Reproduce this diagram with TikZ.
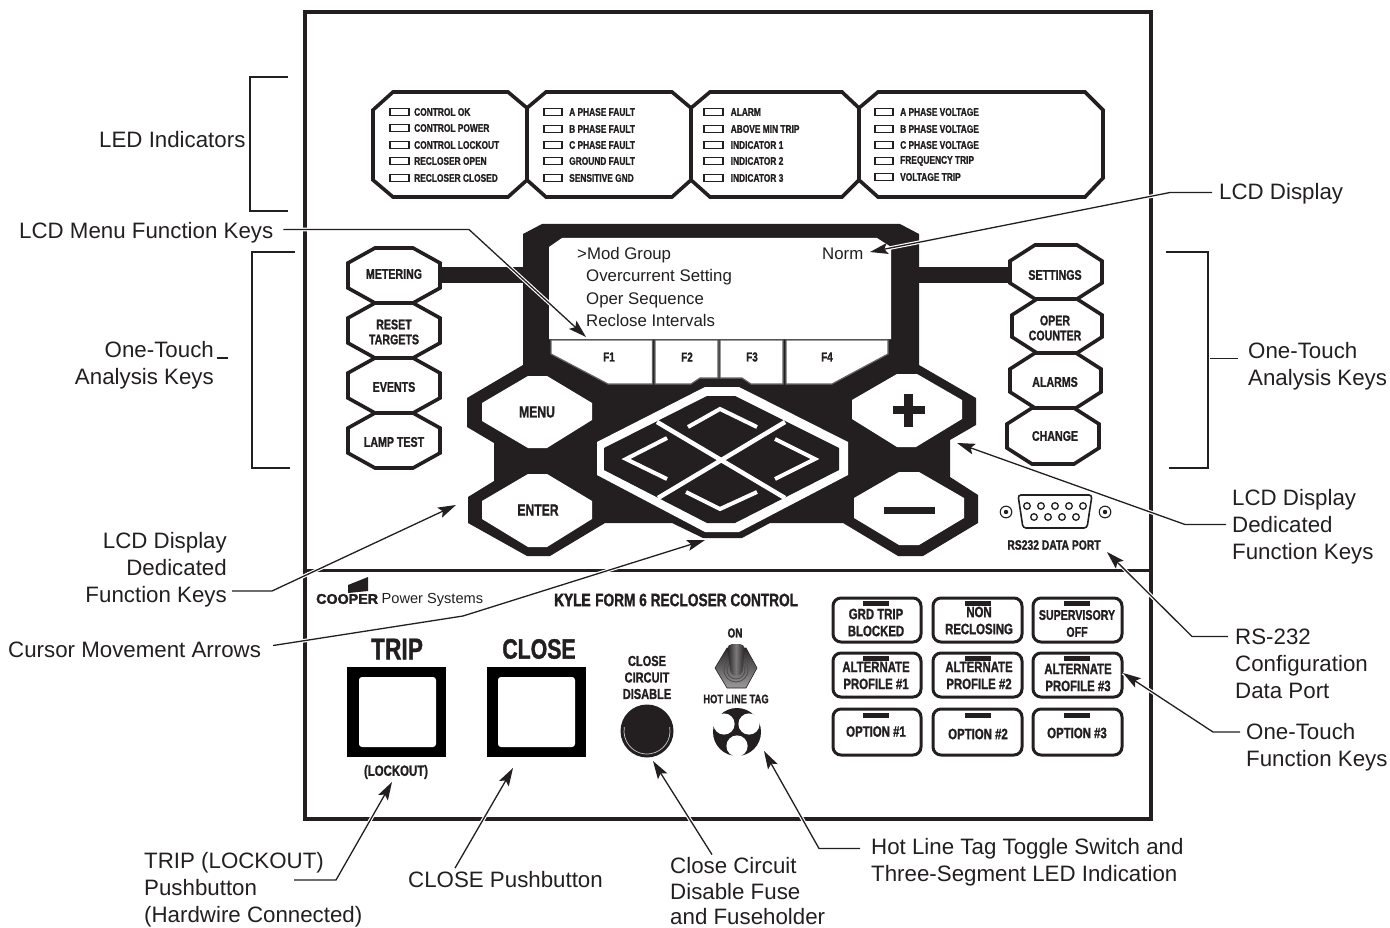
\documentclass[tikz,border=0pt]{standalone}
\usepackage{fontspec}
\usetikzlibrary{arrows.meta,calc}
\setmainfont{Liberation Sans}
\newfontfamily\cond[FakeStretch=0.76,FakeBold=1.2]{Liberation Sans Bold}
\newfontfamily\condh[FakeStretch=0.76,FakeBold=3]{Liberation Sans Bold}
\newfontfamily\heavy[FakeStretch=1.02,FakeBold=2.5]{Liberation Sans Bold}
\definecolor{ink}{HTML}{231F20}
\newcommand\sz[1]{\fontsize{#1}{#1}\selectfont}
\tikzset{
  callout/.style={inner sep=0pt,text=ink,font=\fontsize{22.3}{27}\selectfont},
  lab/.style={inner sep=0pt,text=ink,align=center},
  ledtxt/.style={inner sep=0pt,anchor=west,text=ink,font=\cond\sz{11}},
  ledbox/.style={draw=ink,line width=1.4pt,fill=white},
  panel/.style={draw=ink,line width=3.6pt,fill=white,line join=miter},
  conn/.style={draw=ink,line width=1.3pt,line join=miter,
     preaction={draw=white,line width=3.6pt,-}},
  arr/.style={conn,-{Stealth[length=18pt,width=11pt,inset=3.5pt]}},
  bracket/.style={draw=ink,line width=1.3pt},
  fkey/.style={draw=ink!70,line width=1.2pt,fill=white},
  wkey/.style={fill=white,draw=none},
  fbutton/.style={draw=ink,line width=3pt,fill=white,rounded corners=8pt},
  ledbar/.style={fill=ink,draw=none}
}
\newcommand\octbox[6]{% x1 x2 y1 y2 dx dy
  \draw[panel] (#1,#3+#6) -- (#1+#5,#3) -- (#2-#5,#3) -- (#2,#3+#6) -- (#2,#4-#6) -- (#2-#5,#4) -- (#1+#5,#4) -- (#1,#4-#6) -- cycle;}
\begin{document}
\begin{tikzpicture}[x=1pt,y=-1pt]
\useasboundingbox (0,0) rectangle (1390,928);
% frame
\draw[draw=ink,line width=3.4pt] (305,12) rectangle (1151,819);
\draw[draw=ink,line width=3pt] (305,570) -- (1151,570);
% brackets
\draw[bracket] (288,77) -- (250,77) -- (250,211) -- (288,211);
\draw[bracket] (295,252) -- (252,252) -- (252,468) -- (290,468);
\draw[bracket] (1166,252) -- (1208,252) -- (1208,468) -- (1169,468);
% LED panels
\draw[panel] (393,92) -- (508,92) -- (527,108) -- (527,180) -- (508,197) -- (393,197) -- (373,180) -- (373,110) -- cycle;
\draw[panel] (546,92) -- (672,92) -- (691,108) -- (691,180) -- (672,197) -- (546,197) -- (527,180) -- (527,108) -- cycle;
\draw[panel] (710,92) -- (842,92) -- (859,108) -- (859,180) -- (842,197) -- (710,197) -- (691,180) -- (691,108) -- cycle;
\draw[panel] (878,92) -- (1085,92) -- (1103,110) -- (1103,178) -- (1085,197) -- (878,197) -- (859,180) -- (859,108) -- cycle;
\foreach \i/\y/\t in {1/112/CONTROL OK,2/128/CONTROL POWER,3/145/CONTROL LOCKOUT,4/161/RECLOSER OPEN,5/178/RECLOSER CLOSED}{
  \draw[ledbox] (390,\y-3.5) rectangle (409,\y+3.5);
  \node[ledtxt] (pa\i) at (414,\y) {\t};}
\foreach \i/\y/\t in {1/112/A PHASE FAULT,2/129/B PHASE FAULT,3/145/C PHASE FAULT,4/161/GROUND FAULT,5/178/SENSITIVE GND}{
  \draw[ledbox] (544,\y-3.5) rectangle (562,\y+3.5);
  \node[ledtxt] (pb\i) at (569,\y) {\t};}
\foreach \i/\y/\t in {1/112/ALARM,2/129/ABOVE MIN TRIP,3/145/INDICATOR 1,4/161/INDICATOR 2,5/178/INDICATOR 3}{
  \draw[ledbox] (704,\y-3.5) rectangle (723,\y+3.5);
  \node[ledtxt] (pc\i) at (730.5,\y) {\t};}
\foreach \i/\y/\t in {1/112/A PHASE VOLTAGE,2/129/B PHASE VOLTAGE,3/145/C PHASE VOLTAGE,4/161/FREQUENCY TRIP,5/177/VOLTAGE TRIP}{
  \draw[ledbox] (875,\y-3.5) rectangle (893,\y+3.5);
  \node[ledtxt] (pd\i) at (900,\y) {\t};}
% bars to LCD
\fill[ink] (440,267) rectangle (530,283);
\fill[ink] (915,267) rectangle (1012,283);
% left octagons
\octbox{348}{440}{248}{303}{27}{15}
\octbox{348}{440}{303}{358}{27}{15}
\octbox{348}{440}{358}{413}{27}{15}
\octbox{348}{440}{413}{468}{27}{15}
% right octagons
\octbox{1010}{1102}{245}{299}{25}{16}
\octbox{1012}{1102}{299}{353}{25}{16}
\octbox{1010}{1101}{353}{408}{25}{16}
\octbox{1007}{1099}{408}{464}{25}{16}
\node[lab,font=\cond\sz{14}] (kmet) at (394,274) {METERING};
\node[lab,font=\cond\fontsize{14}{15}\selectfont] (kres) at (394,332) {RESET\\TARGETS};
\node[lab,font=\cond\sz{14}] (kev) at (394,387) {EVENTS};
\node[lab,font=\cond\sz{14}] (klt) at (394,442) {LAMP TEST};
\node[lab,font=\cond\sz{14}] (kset) at (1055,275) {SETTINGS};
\node[lab,font=\cond\fontsize{14}{15}\selectfont] (kop) at (1055,328) {OPER\\COUNTER};
\node[lab,font=\cond\sz{14}] (kal) at (1055,382) {ALARMS};
\node[lab,font=\cond\sz{14}] (kch) at (1055,436) {CHANGE};
% main black body
\fill[ink] (542,224) -- (900,224) -- (919,234) -- (919,365) -- (976,398) -- (976,425) -- (950,440) -- (950,477) -- (978,495) -- (978,523) -- (923,556) -- (898,556) -- (843,523) -- (770,523) -- (742,538) -- (703,538) -- (672,523) -- (605,523) -- (550,556) -- (527,556) -- (468,523) -- (468,497) -- (494,481) -- (494,443) -- (467,427) -- (467,398) -- (523,365) -- (523,234) -- cycle;
% LCD window
\fill[white] (562,238) -- (877,238) -- (891,247) -- (891,339) -- (549,339) -- (549,247) -- cycle;
\draw[fkey] (551,340) -- (652.5,340) -- (652.5,384) -- (608,384) -- (551,354) -- cycle;
\draw[fkey] (655,340) -- (718,340) -- (718,378) -- (700,378) -- (691,384) -- (655,384) -- cycle;
\draw[fkey] (720,340) -- (783,340) -- (783,384) -- (751,384) -- (742,378) -- (720,378) -- cycle;
\draw[fkey] (786,340) -- (888,340) -- (888,354) -- (832,384) -- (786,384) -- cycle;
\node[lab,font=\cond\sz{13}] (f1) at (609,357) {F1};
\node[lab,font=\cond\sz{13}] (f2) at (687,357) {F2};
\node[lab,font=\cond\sz{13}] (f3) at (752,357) {F3};
\node[lab,font=\cond\sz{13}] (f4) at (827,357) {F4};
\node[lab,anchor=west,font=\sz{16.8}] (l1) at (577,255.5) {>Mod Group};
\node[lab,anchor=west,font=\sz{16.8}] (l2) at (586,277.5) {Overcurrent Setting};
\node[lab,anchor=west,font=\sz{16.8}] (l3) at (586,300) {Oper Sequence};
\node[lab,anchor=west,font=\sz{16.8}] (l4) at (586,320.5) {Reclose Intervals};
\node[lab,anchor=west,font=\sz{16.8}] (l5) at (822,254) {Norm};
% hex keys
\fill[wkey] (482,403) -- (528,376) -- (547,376) -- (592,403) -- (592,420) -- (547,448) -- (528,448) -- (482,421) -- cycle;
\fill[wkey] (482,501) -- (528,474) -- (547,474) -- (592,501) -- (592,519) -- (547,547) -- (528,547) -- (482,519) -- cycle;
\fill[wkey] (852,400) -- (897,374) -- (917,374) -- (962,400) -- (962,419) -- (916,447) -- (897,447) -- (852,419) -- cycle;
\fill[wkey] (854,498) -- (899,472) -- (919,472) -- (964,498) -- (964,518) -- (919,545) -- (899,545) -- (854,518) -- cycle;
\fill[ink] (893,406) rectangle (925,414);
\fill[ink] (904,394) rectangle (913,427);
\fill[ink] (884,507) rectangle (935,514);
\node[lab,font=\cond\sz{16}] (kmenu) at (537,412) {MENU};
\node[lab,font=\cond\sz{16}] (kenter) at (538,510) {ENTER};
% cursor diamond
\fill[white] (597,442) -- (705,387) -- (739,387) -- (848,442) -- (848,475) -- (739,532) -- (705,532) -- (597,475) -- cycle;
\fill[ink] (604,448) -- (707,396) -- (735,396) -- (839,448) -- (839,470) -- (735,523) -- (707,523) -- (604,470) -- cycle;
\draw[white,line width=4.5pt] (657,422) -- (785,498);
\draw[white,line width=4.5pt] (785,422) -- (658,498);
\draw[white,line width=4pt,miter limit=10] (688,427) -- (720,409) -- (757,427);
\draw[white,line width=4pt,miter limit=10] (667,438) -- (626,459) -- (667,479);
\draw[white,line width=4pt,miter limit=10] (775,439) -- (815,459) -- (775,479);
\draw[white,line width=4pt,miter limit=10] (686,492) -- (720,509) -- (757,492);
% RS232
\draw[ink,line width=1.6pt,fill=white,rounded corners=3pt] (1018,495) -- (1092,495) -- (1087,528) -- (1023,528) -- cycle;
\foreach \x in {1027,1041,1055,1069,1083}{\draw[ink,line width=1.3pt] (\x,506) circle (3.3pt);}
\foreach \x in {1034,1048,1062,1076}{\draw[ink,line width=1.3pt] (\x,517) circle (3.3pt);}
\foreach \x in {1006,1105}{\draw[ink,line width=1.1pt] (\x,512) circle (5.8pt);\fill[ink] (\x,512) circle (2.2pt);}
\node[lab,font=\cond\sz{13.6}] (rs) at (1054,545) {RS232 DATA PORT};
% lower panel
\fill[ink] (348,585) -- (368,577) -- (368,591) -- (348,593) -- cycle;
\node[lab,anchor=west,font=\heavy\sz{14}] (coop) at (316,599) {COOPER};
\node[lab,anchor=west,font=\sz{14.6}] (psys) at (381.5,599.5) {Power Systems};
\node[lab,anchor=west,font=\cond\sz{18}] (kyle) at (554,600) {{\condh KYLE}\hspace{.25em}FORM 6 RECLOSER CONTROL};
\node[lab,font=\cond\sz{30}] (trip) at (397,649) {TRIP};
\node[lab,font=\cond\sz{28}] (close) at (539,649) {CLOSE};
\fill[black] (347,667) rectangle (446,757);
\fill[black] (487,667) rectangle (586,757);
\fill[white,rounded corners=3pt] (359,677) rectangle (436,747);
\fill[white,rounded corners=3pt] (498,677) rectangle (575,747);
\node[lab,font=\cond\sz{15}] (lock) at (396,772) {(LOCKOUT)};
\node[lab,font=\cond\fontsize{14.5}{16.5}\selectfont] (ccd) at (647,677.5) {CLOSE\\CIRCUIT\\DISABLE};
\fill[ink] (647,731) circle (26.5pt);
\draw[white!75!ink,line width=.7pt] (647,731) ++(-10:23) arc (-10:190:23);
\node[lab,font=\cond\sz{13}] (on) at (735,633) {ON};
\node[lab,font=\cond\sz{12.3}] (hlt) at (736,699) {HOT LINE TAG};
% toggle switch
\shade[top color=ink!95,bottom color=ink!45,draw=ink,line width=.6pt] (715,668) -- (727,648) -- (746,648) -- (757,668) -- (746,688) -- (727,688) -- cycle;
\draw[ink!80,line width=.8pt] (736,670) circle (12pt);
\draw[ink!80,line width=.8pt] (736,670) circle (9pt);
\shade[left color=ink,right color=ink,middle color=ink!60,rounded corners=5pt] (727,644) -- (745,644) -- (742,676) -- (731,676) -- cycle;
% hot line LED
\fill[ink] (737,732) circle (24pt);
\fill[white] (724,724) circle (10.6pt);
\fill[white] (749,724) circle (10.6pt);
\fill[white] (737,746) circle (10.6pt);
% function buttons
\foreach \xa/\xb/\cx/\ba/\bb [count=\c] in {833/921/876/863/889,933/1022/979/965/991,1033/1122/1077/1064/1090}{
  \foreach \ya/\yb/\la/\lb in {598/642/601/606,653/697/656/661,709/755/713/718}{
    \draw[fbutton] (\xa,\ya) rectangle (\xb,\yb);
    \fill[ledbar] (\ba,\la) rectangle (\bb,\lb);}}
\node[lab,font=\cond\fontsize{15}{17}\selectfont] (b1) at (876,622.5) {GRD TRIP\\BLOCKED};
\node[lab,font=\cond\fontsize{15}{17}\selectfont] (b2) at (979,620.5) {NON\\RECLOSING};
\node[lab,font=\cond\fontsize{14}{17}\selectfont] (b3) at (1077,623.5) {SUPERVISORY\\OFF};
\node[lab,font=\cond\fontsize{15}{17}\selectfont] (b4) at (876,675.5) {ALTERNATE\\PROFILE \#1};
\node[lab,font=\cond\fontsize{15}{17}\selectfont] (b5) at (979,675.5) {ALTERNATE\\PROFILE \#2};
\node[lab,font=\cond\fontsize{15}{17}\selectfont] (b6) at (1078,677.5) {ALTERNATE\\PROFILE \#3};
\node[lab,font=\cond\sz{15}] (b7) at (876,731.5) {OPTION \#1};
\node[lab,font=\cond\sz{15}] (b8) at (978,734) {OPTION \#2};
\node[lab,font=\cond\sz{15}] (b9) at (1077,733) {OPTION \#3};
% callout labels
\node[callout,anchor=west] (cLed) at (99,140) {LED Indicators};
\node[callout,anchor=west] (cMenu) at (19,233) {LCD Menu Function Keys};
\node[callout,anchor=west] (cDisp) at (1219,194) {LCD Display};
\node[callout,align=right,anchor=east] (cOneL) at (214,365.5) {One-Touch\\Analysis Keys};
\node[callout,align=left,anchor=west] (cOneR) at (1248,366) {One-Touch\\Analysis Keys};
\node[callout,align=right,anchor=east] (cDedL) at (227,569.5) {LCD Display\\Dedicated\\Function Keys};
\node[callout,align=left,anchor=west] (cDedR) at (1232,526.5) {LCD Display\\Dedicated\\Function Keys};
\node[callout,anchor=west] (cCur) at (8,649.5) {Cursor Movement Arrows};
\node[callout,align=left,anchor=west] (cRS) at (1235,663.5) {RS-232\\Configuration\\Data Port};
\node[callout,align=left,anchor=west] (cFun) at (1246,747) {One-Touch\\Function Keys};
\node[callout,align=left,anchor=west] (cTrip) at (144,889.5) {TRIP (LOCKOUT)\\Pushbutton\\(Hardwire Connected)};
\node[callout,anchor=west] (cClose) at (408,879.5) {CLOSE Pushbutton};
\node[callout,align=left,anchor=west,font=\fontsize{22.3}{25.5}\selectfont] (cFuse) at (670,891.5) {Close Circuit\\Disable Fuse\\and Fuseholder};
\node[callout,align=left,anchor=west] (cHot) at (871,862.5) {Hot Line Tag Toggle Switch and\\Three-Segment LED Indication};
% target coordinates
\coordinate (tMenu) at (586,337);
\coordinate (tDisp) at (870,252);
\coordinate (tDedL) at (456,505);
\coordinate (tDedR) at (957,443);
\coordinate (tCur) at (705,540);
\coordinate (tRS) at (1107,552);
\coordinate (tFun) at (1123,673);
\coordinate (tTrip) at (392,782);
\coordinate (tClose) at (513,768);
\coordinate (tFuse) at (653,761);
\coordinate (tHot) at (764,751);
% connectors
\draw[arr] (cMenu.east) ++(10,-3.5) -- (469,229.5) -- (tMenu);
\draw[arr] (cDisp.west) ++(-7,-1.5) -- (1170,192.5) -- (tDisp);
\draw[conn] (cOneL.east) ++(3,-7.5) -- ++(11,0);
\draw[conn] (cOneR.west) ++(-38,-7.5) -- ++(28,0);
\draw[arr] (cDedL.east) ++(5,21.5) -- (272,591) -- (tDedL);
\draw[arr] (cDedR.west) ++(-6,-2) -- (1185,524.5) -- (tDedR);
\draw[arr] (cCur.east) ++(12,-4) -- (463,616) -- (tCur);
\draw[arr] (cRS.west) ++(-7,-27) -- (1192,636.5) -- (tRS);
\draw[arr] (cFun.west) ++(-6,-15) -- (1213,732) -- (tFun);
\draw[arr] (cTrip.west) ++(150,-9.5) -- (336,880) -- (tTrip);
\draw[arr] (cClose.north west) ++(47,-3) -- (tClose);
\draw[arr] (cFuse.north west) ++(42,-3) -- (tFuse);
\draw[arr] (cHot.west) ++(-11,-14) -- (819,848.5) -- (tHot);
\end{tikzpicture}
\end{document}
